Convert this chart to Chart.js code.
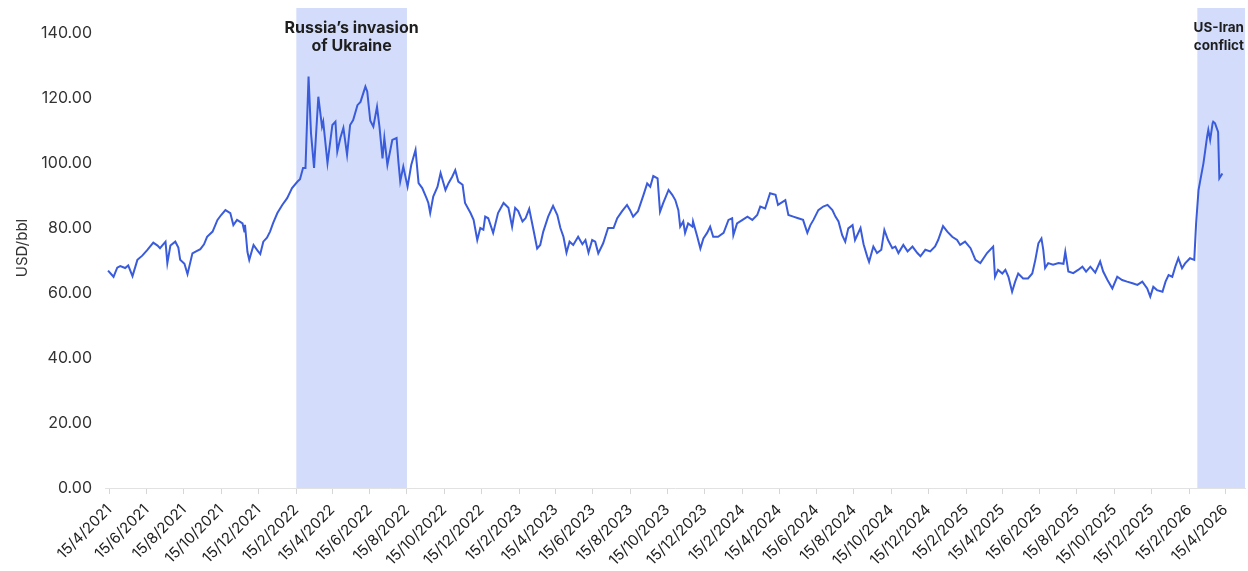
<!DOCTYPE html>
<html>
<head>
<meta charset="utf-8">
<script src="https://cdn.jsdelivr.net/npm/chart.js@4.4.1/dist/chart.umd.min.js"></script>
<style>
  html, body { margin: 0; padding: 0; background: #fff; }
  #wrap { width: 1248px; height: 571px; position: relative; }
</style>
</head>
<body>
<div id="wrap"><canvas id="oilchart"></canvas></div>
<script>
// Brent price, USD/bbl
// x = days since 15/4/2021
const dayOffsets = [
  -2, 7, 13, 18, 26, 31, 38, 46, 54, 62, 72, 79, 83, 92, 95, 100, 108, 113, 116, 123,
  128, 136, 142, 149, 155, 160, 169, 177, 183, 190, 198, 203, 209, 218, 221, 222, 226, 229, 236, 242,
  247, 252, 258, 263, 268, 275, 283, 291, 299, 308, 312, 317, 321, 326, 330, 335, 342, 348, 350, 357,
  365, 370, 373, 378, 383, 389, 394, 399, 406, 411, 419, 422, 427, 432, 438, 442, 447, 450, 455, 463,
  470, 473, 476, 481, 488, 494, 501, 506, 512, 519, 522, 525, 530, 537, 542, 550, 555, 561, 566, 571,
  578, 582, 591, 596, 602, 607, 612, 615, 620, 628, 636, 645, 653, 659, 664, 669, 676, 681, 687, 694,
  700, 705, 710, 718, 726, 733, 738, 743, 748, 753, 759, 767, 774, 779, 784, 790, 795, 800, 808, 816,
  825, 831, 839, 847, 852, 857, 865, 874, 880, 885, 890, 897, 901, 906, 915, 921, 926, 931, 934, 939,
  942, 947, 954, 955, 962, 967, 972, 978, 983, 988, 996, 1005, 1013, 1019, 1021, 1027, 1036, 1044, 1052, 1060,
  1065, 1073, 1081, 1090, 1094, 1106, 1111, 1119, 1127, 1135, 1142, 1147, 1152, 1160, 1168, 1175, 1183, 1188, 1193, 1199,
  1204, 1209, 1216, 1220, 1229, 1234, 1240, 1243, 1250, 1256, 1263, 1268, 1274, 1281, 1286, 1291, 1299, 1306, 1314, 1322,
  1327, 1335, 1343, 1351, 1356, 1364, 1371, 1379, 1387, 1392, 1400, 1409, 1417, 1425, 1436, 1446, 1449, 1454, 1461, 1466,
  1471, 1477, 1482, 1487, 1495, 1503, 1510, 1515, 1520, 1525, 1528, 1531, 1536, 1544, 1553, 1561, 1564, 1569, 1577, 1585,
  1592, 1598, 1605, 1613, 1621, 1626, 1633, 1641, 1649, 1657, 1665, 1674, 1682, 1690, 1698, 1703, 1708, 1714, 1723, 1728,
  1733, 1739, 1744, 1749, 1755, 1760, 1768, 1775, 1778, 1782, 1785, 1790, 1793, 1796, 1798, 1801, 1805, 1806, 1809, 1814,
  1816, 1821
];
const prices = [
  66.9, 65.0, 67.8, 68.3, 67.7, 68.5, 65.2, 70.2, 71.5, 73.2, 75.5, 74.6, 73.8, 75.8, 69.2, 74.6, 75.8, 74.0, 70.2, 69.0,
  65.8, 72.2, 72.8, 73.5, 75.0, 77.3, 78.9, 82.5, 84.0, 85.5, 84.6, 80.9, 82.5, 81.4, 78.9, 81.0, 72.7, 70.2, 74.8, 73.2,
  72.0, 75.8, 77.0, 78.9, 81.5, 84.6, 87.1, 89.2, 92.3, 94.3, 95.0, 98.5, 98.5, 126.6, 109.2, 98.5, 120.4, 111.2, 112.7, 100.0,
  111.7, 112.7, 103.5, 107.7, 110.8, 102.5, 111.7, 113.2, 117.8, 118.8, 123.5, 122.0, 113.0, 111.2, 117.3, 111.2, 101.4, 107.7, 99.4, 107.1,
  107.7, 100.4, 94.3, 98.9, 92.7, 99.4, 104.0, 93.8, 92.3, 89.2, 87.7, 84.6, 89.7, 92.7, 96.9, 91.7, 93.8, 95.8, 97.8, 94.3,
  93.3, 87.7, 84.6, 82.5, 76.3, 80.0, 79.5, 83.5, 83.0, 78.5, 84.6, 87.7, 86.2, 80.4, 86.2, 85.2, 82.0, 83.0, 85.9, 79.4,
  73.7, 74.8, 78.9, 83.5, 86.8, 84.0, 80.0, 77.3, 72.4, 75.8, 74.8, 77.3, 75.0, 76.3, 72.4, 76.3, 75.8, 72.2, 75.3, 80.0,
  80.0, 83.0, 85.2, 87.1, 85.5, 83.5, 85.2, 90.2, 93.7, 92.7, 96.0, 95.3, 85.0, 87.6, 91.7, 90.2, 88.6, 85.5, 80.4, 82.0,
  78.5, 81.4, 80.4, 82.0, 77.3, 73.7, 76.8, 78.5, 80.4, 77.3, 77.3, 78.5, 82.5, 83.0, 77.8, 81.4, 82.5, 83.5, 82.5, 84.0,
  86.6, 86.0, 90.7, 90.2, 87.1, 88.6, 84.0, 83.5, 83.0, 82.5, 78.5, 80.9, 82.5, 85.5, 86.6, 87.1, 85.5, 83.5, 82.0, 77.8,
  75.8, 79.9, 80.9, 76.3, 80.0, 75.0, 71.2, 69.6, 74.3, 72.3, 73.3, 79.4, 76.3, 73.8, 74.3, 72.3, 74.8, 72.8, 74.3, 72.3,
  71.3, 73.3, 72.8, 74.3, 76.3, 80.6, 78.9, 77.3, 76.3, 74.8, 75.8, 73.8, 70.2, 69.2, 72.3, 74.3, 65.0, 67.1, 66.0, 67.1,
  65.0, 60.4, 63.5, 66.0, 64.5, 64.5, 66.0, 70.2, 75.3, 76.8, 73.3, 67.7, 69.2, 68.7, 69.2, 69.0, 72.7, 66.6, 66.1, 67.1,
  68.1, 66.6, 68.1, 66.3, 69.7, 66.6, 64.0, 61.4, 65.0, 64.0, 63.5, 63.0, 62.5, 63.5, 61.4, 58.9, 61.9, 60.9, 60.4, 63.5,
  65.5, 65.0, 68.1, 70.7, 67.6, 69.1, 70.7, 70.2, 81.4, 91.7, 94.8, 99.9, 104.0, 108.1, 110.2, 107.1, 112.2, 112.7, 112.2, 109.6,
  95.3, 96.8
];
const tickLabels = [
  '15/4/2021', '15/6/2021', '15/8/2021', '15/10/2021', '15/12/2021',
  '15/2/2022', '15/4/2022', '15/6/2022', '15/8/2022', '15/10/2022', '15/12/2022',
  '15/2/2023', '15/4/2023', '15/6/2023', '15/8/2023', '15/10/2023', '15/12/2023',
  '15/2/2024', '15/4/2024', '15/6/2024', '15/8/2024', '15/10/2024', '15/12/2024',
  '15/2/2025', '15/4/2025', '15/6/2025', '15/8/2025', '15/10/2025', '15/12/2025',
  '15/2/2026', '15/4/2026'
];
const yTicks = [0, 20, 40, 60, 80, 100, 120, 140];

// shaded events
const eventStarts = ['15/2/2022', '28/2/2026'];
const eventEnds = ['15/8/2022', null];
const eventLabels = [["Russia\u2019s invasion", 'of Ukraine'], ['US-Iran', 'conflict']];
const eventFontSizes = [16, 13.5];

const AXIS_MIN = -7;
const AXIS_MAX = 1858;

function dayOf(label) {
  const p = label.split('/').map(Number);
  return Math.round((Date.UTC(p[2], p[1] - 1, p[0]) - Date.UTC(2021, 3, 15)) / 86400000);
}

const eventsPlugin = {
  id: 'events',
  beforeDatasetsDraw(chart) {
    const {ctx, chartArea, scales} = chart;
    ctx.save();
    ctx.fillStyle = '#d3ddfb';
    eventStarts.forEach((s, i) => {
      const x0 = scales.x.getPixelForValue(dayOf(s));
      const x1 = eventEnds[i] ? scales.x.getPixelForValue(dayOf(eventEnds[i])) : chartArea.right;
      ctx.fillRect(x0, chartArea.top, x1 - x0, chartArea.bottom - chartArea.top);
    });
    ctx.restore();
  },
  afterDatasetsDraw(chart) {
    const {ctx, chartArea, scales} = chart;
    ctx.save();
    ctx.fillStyle = '#1e1e1e';
    ctx.textAlign = 'center';
    ctx.textBaseline = 'middle';
    eventStarts.forEach((s, i) => {
      ctx.font = 'bold ' + eventFontSizes[i] + 'px Inter, "Noto Sans", sans-serif';
      const x0 = scales.x.getPixelForValue(dayOf(s));
      const x1 = eventEnds[i] ? scales.x.getPixelForValue(dayOf(eventEnds[i])) : chartArea.right;
      eventLabels[i].forEach((line, j) => {
        const w = ctx.measureText(line).width;
        const cx = Math.min((x0 + x1) / 2, chart.width - w / 2 - 4);
        ctx.fillText(line, cx, chartArea.top + 20 + j * 18);
      });
    });
    ctx.restore();
  }
};

new Chart('oilchart', {
  type: 'line',
  data: {
    datasets: [{
      data: dayOffsets.map((d, i) => ({x: d, y: prices[i]})),
      borderColor: '#3a5cdb',
      borderWidth: 2,
      pointRadius: 0,
      tension: 0
    }]
  },
  options: {
    responsive: true,
    maintainAspectRatio: false,
    animation: false,
    layout: {padding: {top: 8, right: 3, left: 6, bottom: 0}},
    plugins: {legend: {display: false}, tooltip: {enabled: false}},
    scales: {
      x: {
        type: 'linear',
        min: AXIS_MIN,
        max: AXIS_MAX,
        afterBuildTicks(scale) {
          scale.ticks = tickLabels.map(l => ({value: dayOf(l)}));
        },
        afterFit(scale) {
          scale.height = 83;
          scale.paddingTop = 0;
        },
        ticks: {
          autoSkip: false,
          minRotation: 45,
          maxRotation: 45,
          color: '#1e1e1e',
          font: {family: 'Inter, "Noto Sans", sans-serif', size: 15},
          padding: 7,
          callback: (v, i) => tickLabels[i]
        },
        grid: {drawOnChartArea: false, color: '#d6d6d6', tickLength: 6},
        border: {color: '#e2e2e2'}
      },
      y: {
        min: 0,
        max: 147.7,
        afterBuildTicks(scale) {
          scale.ticks = yTicks.map(v => ({value: v}));
        },
        afterFit(scale) {
          scale.width = 99;
          scale.paddingTop = 0;
          scale.paddingBottom = 0;
        },
        ticks: {
          color: '#333',
          font: {family: 'Inter, "Noto Sans", sans-serif', size: 16},
          padding: 5,
          callback: v => v.toFixed(2)
        },
        grid: {display: false},
        border: {display: false},
        title: {
          display: true,
          text: 'USD/bbl',
          color: '#333',
          font: {family: 'Inter, "Noto Sans", sans-serif', size: 15},
          padding: {top: 7, bottom: 0}
        }
      }
    }
  },
  plugins: [eventsPlugin]
});
</script>
</body>
</html>
